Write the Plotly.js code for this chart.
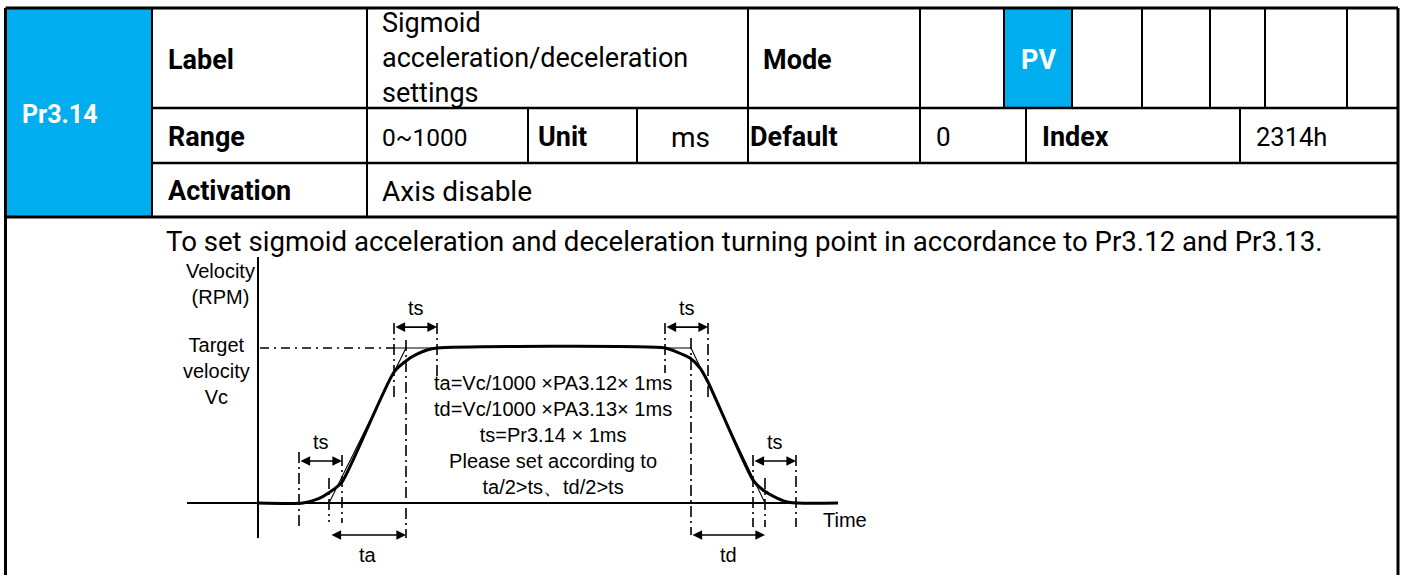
<!DOCTYPE html>
<html><head><meta charset="utf-8">
<script src="https://cdn.plot.ly/plotly-3.0.1.min.js"></script>
<style>html,body{margin:0;padding:0;background:#fff;}#chart{width:1401px;height:575px;}</style>
</head><body><div id="chart"></div>
<script>
// ---------------- table content ----------------
const paramCode = 'Pr3.14';
const rowLabels = ['Label', 'Range', 'Activation'];
const labelValueLines = ['Sigmoid', 'acceleration/deceleration', 'settings'];
const modeLabel = 'Mode';
const modeCells = ['', 'PV', '', '', '', '', ''];
const rangeValue = '0~1000';
const unitLabel = 'Unit';
const unitValue = 'ms';
const defaultLabel = 'Default';
const defaultValue = '0';
const indexLabel = 'Index';
const indexValue = '2314h';
const activationValue = 'Axis disable';
const description = 'To set sigmoid acceleration and deceleration turning point in accordance to Pr3.12 and Pr3.13.';

// ---------------- diagram data ----------------
// time in diagram units (origin at the velocity axis), velocity in RPM (target Vc = 1000)
const curveTime = [0, 45, 60, 72, 84, 136, 152, 159, 169, 179, 407, 419, 432, 442, 450, 495, 505, 519, 532, 580];
const curveVel  = [0, 0, 26, 71, 135, 845, 935, 961, 987, 1000, 1000, 974, 935, 871, 781, 148, 84, 32, 3, 0];
const accelTangentTime = [71, 148];
const accelTangentVel  = [0, 1000];
const decelTangentTime = [407, 433, 507];
const decelTangentVel  = [1000, 1000, 0];
const targetVel = 1000;
const targetLineTime = [2, 136];
const targetSolidTime = [136, 179];
// vertical guide lines: time, top velocity, bottom velocity
const guideTime   = [41, 71, 84, 136, 148, 179, 407, 433, 450, 495, 507, 538];
const guideTop    = [329, 161, 310, 1161, 1052, 1161, 1161, 1065, 1161, 310, 161, 310];
const guideBottom = [-155, -123, -129, 665, -226, 806, 839, -206, 665, -155, -155, -155];
// dimension arrows: start time, end time, level (RPM), label
const dimStart = [41, 136, 407, 495, 72, 433];
const dimEnd   = [84, 179, 450, 538, 148, 507];
const dimLevel = [271, 1135, 1135, 271, -206, -206];
const dimLabel = ['ts', 'ts', 'ts', 'ts', 'ta', 'td'];
const axisTimeRange = [-71, 580];
const axisVelRange = [-226, 1587];
const formulaLines = [
  'ta=Vc/1000 \u00d7PA3.12\u00d7 1ms',
  'td=Vc/1000 \u00d7PA3.13\u00d7 1ms',
  'ts=Pr3.14 \u00d7 1ms',
  'Please set according to',
  'ta/2>ts\u3001td/2>ts'
];

// ---------------- styling / layout ----------------
const BLUE = '#00AEEF';
const TFONT = 'Roboto, "DejaVu Sans", sans-serif';
const DFONT = '"Liberation Sans", Arial, sans-serif';
const TS = 28;
const TB = 27;
const DS = 20;

const L = 5.5, R = 1398, TOP = 8, BOT = 575;
const rowY = [8, 108, 163, 217];
const row1Cols = [152, 367, 748, 920, 1004, 1072, 1142, 1210, 1265, 1347];
const row2Cols = [152, 367, 528, 637, 748, 920, 1026, 1240];
const row3Cols = [152, 367];

const shapes = [];
function line(x0, y0, x1, y1, w) {
  shapes.push({type: 'line', xref: 'x', yref: 'y', x0, y0, x1, y1, line: {color: '#000', width: w || 2}});
}
shapes.push({type: 'rect', xref: 'x', yref: 'y', x0: L, x1: 152, y0: rowY[0], y1: rowY[3], fillcolor: BLUE, line: {width: 0}, layer: 'below'});
const pvIdx = modeCells.indexOf('PV');
shapes.push({type: 'rect', xref: 'x', yref: 'y', x0: row1Cols[3 + pvIdx], x1: row1Cols[4 + pvIdx], y0: rowY[0], y1: rowY[1], fillcolor: BLUE, line: {width: 0}, layer: 'below'});
line(L, TOP, R, TOP, 3);
line(L, TOP, L, BOT, 3);
line(R, TOP, R, BOT, 3);
line(L, rowY[3], R, rowY[3], 3);
line(152, rowY[1], R, rowY[1], 2.5);
line(152, rowY[2], R, rowY[2], 2.5);
row1Cols.forEach(x => line(x, rowY[0], x, rowY[1], 2));
row2Cols.forEach(x => line(x, rowY[1], x, rowY[2], 2));
row3Cols.forEach(x => line(x, rowY[2], x, rowY[3], 2));

const ann = [];
function txt(text, x, y, opts) {
  opts = opts || {};
  ann.push({
    text, x, y, xref: opts.xref || 'x', yref: opts.yref || 'y',
    xanchor: opts.xanchor || 'left', yanchor: 'middle', showarrow: false,
    align: opts.align || 'left',
    font: {family: opts.family || TFONT, size: opts.size || (opts.bold ? TB : TS), color: opts.color || '#000', weight: opts.bold ? 'bold' : 'normal'}
  });
}
const B = {bold: true};
txt(paramCode, 20, 114, {bold: true, color: '#fff', size: 25});
txt(rowLabels[0], 166, 60, B);
txt(labelValueLines.join('<br>'), 380, 58, {size: 27});
txt(modeLabel, 761, 60, B);
txt('PV', (row1Cols[3 + pvIdx] + row1Cols[4 + pvIdx]) / 2, 60, {bold: true, color: '#fff', xanchor: 'center'});
txt(rowLabels[1], 166, 137, B);
txt(rangeValue, 380, 137, {size: 24.5});
txt(unitLabel, 536, 137, B);
txt(unitValue, 690, 137, {xanchor: 'center'});
txt(defaultLabel, 748, 137, B);
txt(defaultValue, 934, 137, {size: 26});
txt(indexLabel, 1040, 137, B);
txt(indexValue, 1254, 137, {size: 25.5});
txt(rowLabels[2], 166, 191, B);
txt(activationValue, 380, 191);
txt(description, 164, 241, {size: 27.6});

// diagram texts
const D = {xref: 'x2', yref: 'y2', family: DFONT, size: DS};
txt('Velocity<br>(RPM)', -38, 1412, Object.assign({xanchor: 'center', align: 'center'}, D));
txt('Target<br>velocity<br>Vc', -42, 852, Object.assign({xanchor: 'center', align: 'center'}, D));
txt('Time', 563, -110, Object.assign({xanchor: 'left'}, D));
txt(formulaLines.join('<br>'), 295, 440, Object.assign({xanchor: 'center', align: 'center'}, D));

dimStart.forEach((s, i) => {
  ann.push({x: dimEnd[i], y: dimLevel[i], ax: s, ay: dimLevel[i], xref: 'x2', yref: 'y2', axref: 'x2', ayref: 'y2',
    text: '', showarrow: true, arrowhead: 2, arrowside: 'end+start', arrowsize: 1.2, arrowwidth: 1.6, arrowcolor: '#000', standoff: 0, startstandoff: 0});
  const up = dimLevel[i] > 0;
  txt(dimLabel[i], (s + dimEnd[i]) / 2, dimLevel[i] + (up ? 125 : -130), Object.assign({xanchor: 'center'}, D));
});

// ---------------- traces ----------------
const gx = [], gy = [];
guideTime.forEach((t, i) => { gx.push(t, t, null); gy.push(guideTop[i], guideBottom[i], null); });

const traces = [
  {x: axisTimeRange, y: [0, 0], xaxis: 'x2', yaxis: 'y2', mode: 'lines', line: {color: '#000', width: 2}, hoverinfo: 'skip'},
  {x: [0, 0], y: axisVelRange, xaxis: 'x2', yaxis: 'y2', mode: 'lines', line: {color: '#000', width: 2}, hoverinfo: 'skip'},
  {x: gx, y: gy, xaxis: 'x2', yaxis: 'y2', mode: 'lines', connectgaps: false, line: {color: '#000', width: 1.6, dash: '11px,4px,2px,4px'}, hoverinfo: 'skip'},
  {x: targetLineTime, y: [targetVel, targetVel], xaxis: 'x2', yaxis: 'y2', mode: 'lines', line: {color: '#000', width: 1.4, dash: '9px,5px,2px,5px'}, hoverinfo: 'skip'},
  {x: targetSolidTime, y: [targetVel, targetVel], xaxis: 'x2', yaxis: 'y2', mode: 'lines', line: {color: '#000', width: 1.2}, hoverinfo: 'skip'},
  {x: accelTangentTime, y: accelTangentVel, xaxis: 'x2', yaxis: 'y2', mode: 'lines', line: {color: '#000', width: 1.1}, hoverinfo: 'skip'},
  {x: decelTangentTime, y: decelTangentVel, xaxis: 'x2', yaxis: 'y2', mode: 'lines', line: {color: '#000', width: 1.1}, hoverinfo: 'skip'},
  {x: curveTime, y: curveVel, xaxis: 'x2', yaxis: 'y2', mode: 'lines', line: {color: '#000', width: 3, shape: 'spline', smoothing: 0.6}, hoverinfo: 'skip'}
];

const layout = {
  width: 1401, height: 575,
  margin: {l: 0, r: 0, t: 0, b: 0, pad: 0},
  paper_bgcolor: '#fff', plot_bgcolor: '#fff',
  showlegend: false,
  xaxis: {range: [0, 1401], visible: false, fixedrange: true},
  yaxis: {range: [575, 0], visible: false, fixedrange: true},
  xaxis2: {range: [-258, 1143], overlaying: 'x', anchor: 'y2', visible: false, fixedrange: true},
  yaxis2: {range: [-464.5, 3245.2], overlaying: 'y', anchor: 'x2', visible: false, fixedrange: true},
  shapes, annotations: ann
};
Plotly.newPlot('chart', traces, layout, {displayModeBar: false, staticPlot: true});
</script></body></html>
